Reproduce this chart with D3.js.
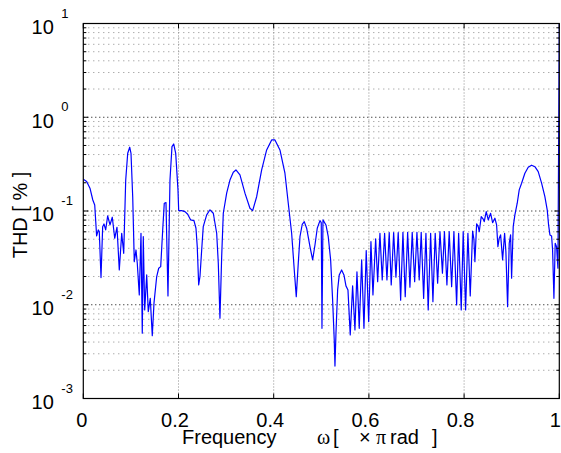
<!DOCTYPE html>
<html lang="en">
<head>
  <meta charset="utf-8">
  <title>THD plot</title>
  <style>
    body { margin: 0; background: #fff; }
    text { font-family: "Liberation Sans", Arial, Helvetica, sans-serif; fill: #000; }
  </style>
</head>
<body>
  <script src="https://d3js.org/d3.v7.min.js"></script>
  <svg></svg>
  <script>

// Normalised frequency (x pi rad)
var freq = [0.000,0.007,0.014,0.020,0.024,0.028,0.0315,0.0336,0.0372,0.0407,0.0435,0.0470,0.0512,0.0561,0.0609,0.0660,0.0708,0.0756,0.0807,0.0849,
  0.0891,0.0933,0.0975,0.1002,0.1038,0.1071,0.1107,0.1134,0.1176,0.1212,0.1239,0.1260,0.1290,0.1332,0.1365,0.1407,0.1449,0.1485,0.1542,0.1584,
  0.1626,0.1668,0.1701,0.1737,0.1779,0.1821,0.1863,0.1899,0.1941,0.1989,0.2004,0.2067,0.2136,0.2193,0.2256,0.2325,0.2367,0.2394,0.2424,0.2451,
  0.2487,0.2520,0.2592,0.2661,0.2731,0.2802,0.2836,0.2871,0.2907,0.2941,0.3012,0.3081,0.3151,0.3207,0.3291,0.3396,0.3501,0.3558,0.3642,0.3747,
  0.3852,0.3957,0.4026,0.4131,0.4236,0.4306,0.4377,0.4432,0.4474,0.4516,0.4552,0.4600,0.4642,0.4692,0.4762,0.4818,0.4867,0.4915,0.4972,0.4999,
  0.5014,0.5035,0.5098,0.5146,0.5196,0.5238,0.5272,0.5287,0.5308,0.5343,0.5377,0.5427,0.5476,0.5518,0.5560,0.5608,0.5658,0.5707,0.5749,0.5797,
  0.5848,0.5896,0.5944,0.5995,0.6043,0.6085,0.6142,0.6184,0.6232,0.6280,0.6330,0.6379,0.6427,0.6469,0.6520,0.6568,0.6616,0.6667,0.6715,0.6763,
  0.6814,0.6862,0.6910,0.6961,0.7009,0.7057,0.7099,0.7150,0.7198,0.7246,0.7297,0.7345,0.7393,0.7444,0.7493,0.7545,0.7587,0.7639,0.7687,0.7738,
  0.7786,0.7843,0.7885,0.7940,0.7981,0.8032,0.8080,0.8129,0.8179,0.8206,0.8227,0.8263,0.8297,0.8318,0.8360,0.8402,0.8423,0.8465,0.8507,0.8557,
  0.8599,0.8647,0.8683,0.8710,0.8738,0.8767,0.8809,0.8851,0.8878,0.8914,0.8948,0.8977,0.8998,0.9032,0.9067,0.9116,0.9158,0.9208,0.9277,0.9347,
  0.9418,0.9487,0.9557,0.9628,0.9697,0.9746,0.9775,0.9803,0.9838,0.9859,0.9887,0.9914,0.9943,0.9971,1.0];

// THD in percent
var thd = [0.218,0.206,0.175,0.131,0.116,0.0542,0.0628,0.0602,0.0195,0.0681,0.0728,0.0628,0.0886,0.0710,0.0858,0.0512,0.0671,0.0235,0.0579,0.0354,
  0.214,0.413,0.479,0.413,0.142,0.0288,0.0384,0.0277,0.0127,0.0579,0.00497,0.0532,0.00881,0.0208,0.00844,0.0117,0.00468,0.0104,0.0200,0.0245,
  0.0255,0.0628,0.121,0.123,0.0124,0.214,0.486,0.519,0.413,0.168,0.101,0.101,0.0985,0.0923,0.0803,0.0789,0.0655,0.0417,0.0163,0.0200,
  0.0384,0.0681,0.0908,0.103,0.0946,0.0579,0.0277,0.00718,0.0326,0.0946,0.155,0.214,0.259,0.274,0.243,0.155,0.107,0.101,0.142,0.274,
  0.448,0.573,0.573,0.448,0.253,0.121,0.0579,0.0235,0.0122,0.0277,0.0532,0.0722,0.0770,0.0655,0.0417,0.0301,0.0434,0.0655,0.0789,0.0751,
  0.00561,0.0803,0.0710,0.0532,0.0301,0.0112,0.00421,0.00222,0.00497,0.0144,0.0208,0.0235,0.0208,0.0159,0.0144,0.00476,0.0159,0.00538,0.0225,0.00561,
  0.0301,0.00561,0.0378,0.00661,0.0471,0.0127,0.0504,0.0176,0.0579,0.0184,0.0579,0.0184,0.0588,0.0163,0.0588,0.0197,0.0588,0.0112,0.0593,0.0122,
  0.0593,0.0154,0.0593,0.0176,0.0593,0.0184,0.0593,0.0117,0.0579,0.00881,0.0579,0.0108,0.0579,0.0170,0.0602,0.0217,0.0602,0.0163,0.0602,0.0156,
  0.0602,0.00995,0.0579,0.00881,0.0602,0.00881,0.0579,0.0124,0.0612,0.0500,0.0288,0.0728,0.0681,0.0602,0.0871,0.0817,0.0770,0.0985,0.0803,0.0946,
  0.0751,0.0837,0.0710,0.0417,0.0512,0.0556,0.0301,0.0579,0.0368,0.00955,0.0453,0.0556,0.0192,0.0681,0.0908,0.121,0.168,0.198,0.253,0.293,
  0.308,0.297,0.263,0.198,0.142,0.103,0.0710,0.0556,0.0542,0.0384,0.0117,0.0453,0.0417,0.0245,10];

// Tick labels
var xTicks = [0, 0.2, 0.4, 0.6, 0.8, 1];
var xTickLabels = ['0', '0.2', '0.4', '0.6', '0.8', '1'];
var yExponents = [-3, -2, -1, 0, 1];

var width = 561, height = 453;
var margins = {top: 23.5, right: 1.7, bottom: 54.5, left: 83.3};
var plotW = width - margins.left - margins.right;
var plotH = height - margins.top - margins.bottom;

var svg = d3.select('svg')
            .attr('width', width)
            .attr('height', height);

var xScale = d3.scaleLinear().domain([0, 1]).range([0, plotW]);
var yScale = d3.scaleLog().domain([1e-3, 1e1]).range([plotH, 0]);

var g = svg.append('g')
   .attr('transform', 'translate(' + margins.left + ',' + margins.top + ')');

// minor log grid (2..9 in each decade)
var minorY = [];
yExponents.slice(0, -1).forEach(function(e) {
  for (var k = 2; k <= 9; k++) minorY.push(k * Math.pow(10, e));
});

g.selectAll('.minor')
   .data(minorY)
   .enter().append('line')
   .attr('x1', 0).attr('x2', plotW)
   .attr('y1', function(d) { return yScale(d); })
   .attr('y2', function(d) { return yScale(d); })
   .attr('stroke', '#8a8a8a')
   .attr('stroke-width', 1)
   .attr('stroke-dasharray', '1,4');

// major grid (decades)
g.selectAll('.major')
   .data(yExponents.slice(1, -1))
   .enter().append('line')
   .attr('x1', 0).attr('x2', plotW)
   .attr('y1', function(d) { return yScale(Math.pow(10, d)); })
   .attr('y2', function(d) { return yScale(Math.pow(10, d)); })
   .attr('stroke', '#000')
   .attr('stroke-width', 1)
   .attr('stroke-dasharray', '1,3');

// vertical grid
g.selectAll('.vgrid')
   .data(xTicks.slice(1, -1))
   .enter().append('line')
   .attr('x1', function(d) { return xScale(d); })
   .attr('x2', function(d) { return xScale(d); })
   .attr('y1', 0).attr('y2', plotH)
   .attr('stroke', '#8a8a8a')
   .attr('stroke-width', 1)
   .attr('stroke-dasharray', '1,2');

// clip for the curve
svg.append('clipPath').attr('id', 'clip')
   .append('rect').attr('x', 0).attr('y', 0).attr('width', plotW).attr('height', plotH);

var line = d3.line()
   .x(function(d) { return xScale(d[0]); })
   .y(function(d) { return yScale(d[1]); });

g.append('path')
   .datum(d3.zip(freq, thd))
   .attr('clip-path', 'url(#clip)')
   .attr('d', line)
   .attr('fill', 'none')
   .attr('stroke', '#0000ff')
   .attr('stroke-width', 1.2)
   .attr('stroke-linejoin', 'round');

// ticks (inward, on all four sides like matlab)
var tickG = g.append('g').attr('stroke', '#000').attr('stroke-width', 1);
xTicks.forEach(function(t) {
  var x = xScale(t);
  tickG.append('line').attr('x1', x).attr('x2', x).attr('y1', plotH).attr('y2', plotH - 5);
  tickG.append('line').attr('x1', x).attr('x2', x).attr('y1', 0).attr('y2', 5);
});
yExponents.forEach(function(e) {
  var y = yScale(Math.pow(10, e));
  tickG.append('line').attr('x1', 0).attr('x2', 5).attr('y1', y).attr('y2', y);
  tickG.append('line').attr('x1', plotW).attr('x2', plotW - 5).attr('y1', y).attr('y2', y);
});
minorY.forEach(function(v) {
  var y = yScale(v);
  tickG.append('line').attr('x1', 0).attr('x2', 3).attr('y1', y).attr('y2', y);
  tickG.append('line').attr('x1', plotW).attr('x2', plotW - 3).attr('y1', y).attr('y2', y);
});

// axes box
g.append('rect')
   .attr('x', 0).attr('y', 0)
   .attr('width', plotW).attr('height', plotH)
   .attr('fill', 'none')
   .attr('stroke', '#000')
   .attr('stroke-width', 1.2);

// x tick labels
g.selectAll('.xlab')
   .data(xTicks)
   .enter().append('text')
   .attr('x', function(d) {
     if (d === 1) return plotW + 1.7;
     return xScale(d) - (d === 0 ? 1.5 : 3.5);
   })
   .attr('y', plotH + 28.3)
   .attr('text-anchor', function(d) { return d === 1 ? 'end' : 'middle'; })
   .attr('font-size', '20px')
   .text(function(d, i) { return xTickLabels[i]; });

// y tick labels: 10 with exponent
yExponents.forEach(function(e) {
  var y = yScale(Math.pow(10, e));
  g.append('text')
     .attr('x', -29.5).attr('y', y + 10.3)
     .attr('text-anchor', 'end')
     .attr('font-size', '20px')
     .text('10');
  g.append('text')
     .attr('x', -22).attr('y', y - 6)
     .attr('font-size', '13px')
     .text(e);
});

// x axis label
var xl = svg.append('text').attr('y', 444).attr('font-size', '20px');
xl.append('tspan').attr('x', 182).text('Frequency');
xl.append('tspan').attr('x', 317).attr('font-family', '"Liberation Serif", "Times New Roman", serif').text('\u03c9');
xl.append('tspan').attr('x', 333).text('[');
xl.append('tspan').attr('x', 359).text('\u00d7');
xl.append('tspan').attr('x', 376).attr('font-family', '"Liberation Serif", "Times New Roman", serif').text('\u03c0');
xl.append('tspan').attr('x', 390).text('rad');
xl.append('tspan').attr('x', 432).text(']');

// y axis label
svg.append('text')
   .attr('transform', 'translate(27,215) rotate(-90)')
   .attr('text-anchor', 'middle')
   .attr('font-size', '20px')
   .text('THD [ % ]');

  </script>
</body>
</html>
